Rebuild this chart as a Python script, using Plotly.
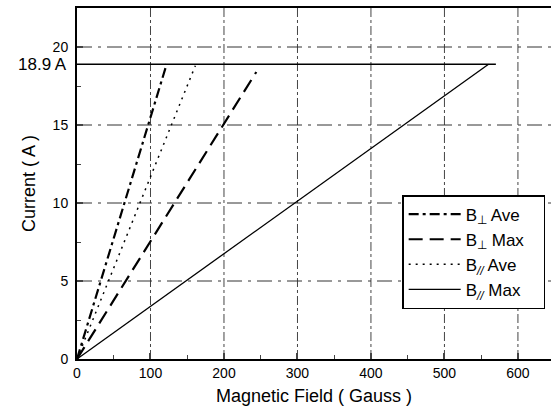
import plotly.graph_objects as go

# Data
current_max = 18.9
current_label = "18.9 A"
series_names = ["B<sub>⊥</sub> Ave", "B<sub>⊥</sub> Max", "B<sub><i>//</i></sub> Ave", "B<sub><i>//</i></sub> Max"]
series_x = [[0, 122], [0, 244], [0, 161], [0, 560]]
series_y = [[0, 18.9], [0, 18.4], [0, 18.8], [0, 18.9]]
series_dash = ["10px,4px,3px,4px", "14px,7px", "2px,5px", "solid"]
series_width = [2.2, 2.2, 1.5, 1.3]
limit_x = [0, 570]
limit_y = [18.9, 18.9]

x_ticks = [0, 100, 200, 300, 400, 500, 600]
y_ticks = [0, 5, 10, 15, 20]
x_grid = [100, 200, 300, 400, 500, 600]
y_grid = [5, 10, 15, 20]
x_range = [0, 645]
y_range = [0, 22.5]

fig = go.Figure()
for name, xs, ys, d, w in zip(series_names, series_x, series_y, series_dash, series_width):
    fig.add_trace(go.Scatter(x=xs, y=ys, mode="lines", name=name + "&#160;&#160;&#160;",
                             line=dict(color="black", dash=d, width=w)))
fig.add_trace(go.Scatter(x=limit_x, y=limit_y, mode="lines", showlegend=False,
                         line=dict(color="black", width=1.5)))

shapes = []
for gx in x_grid:
    shapes.append(dict(type="line", xref="x", yref="y", x0=gx, x1=gx, y0=y_range[0], y1=y_range[1],
                       line=dict(color="#444", width=1, dash="dashdot"), layer="below"))
for gy in y_grid:
    shapes.append(dict(type="line", xref="x", yref="y", x0=x_range[0], x1=x_range[1], y0=gy, y1=gy,
                       line=dict(color="#333", width=1, dash="longdashdot"), layer="below"))

fig.update_layout(
    width=551, height=412,
    margin=dict(l=77, r=0, t=8, b=53),
    plot_bgcolor="white", paper_bgcolor="white",
    font=dict(family="Liberation Sans, Arial", color="black", size=14),
    shapes=shapes,
    showlegend=True,
    legend=dict(x=0.686, y=0.467, xanchor="left", yanchor="top",
                bordercolor="black", borderwidth=1.5, bgcolor="white",
                font=dict(size=17), itemwidth=52, tracegroupgap=0,
                traceorder="normal"),
    annotations=[dict(x=0, y=current_max, xref="x", yref="y", text=current_label,
                      showarrow=False, xanchor="right", yanchor="middle", xshift=-8,
                      font=dict(size=17))],
    xaxis=dict(range=x_range, tickvals=x_ticks, ticks="inside", ticklen=6, tickwidth=1.5,
               showgrid=False, zeroline=False, showline=True, linewidth=2, linecolor="black",
               mirror=True, automargin=False,
               minor=dict(dtick=50, tick0=0, ticks="inside", ticklen=4, tickwidth=1, showgrid=False),
               title=dict(text="Magnetic Field ( Gauss )", font=dict(size=18), standoff=10)),
    yaxis=dict(range=y_range, tickvals=y_ticks, ticks="inside", ticklen=6,
               tickwidth=1.5, showgrid=False, zeroline=False, showline=True, linewidth=2,
               linecolor="black", automargin=False, ticklabelstandoff=4,
               minor=dict(dtick=2.5, tick0=0, ticks="inside", ticklen=4, tickwidth=1, showgrid=False),
               title=dict(text="Current ( A )", font=dict(size=18), standoff=12)),
)

fig.write_html("out.html", config={"displayModeBar": False},
               post_script="document.body.style.margin='0px';document.body.style.overflow='hidden';")
